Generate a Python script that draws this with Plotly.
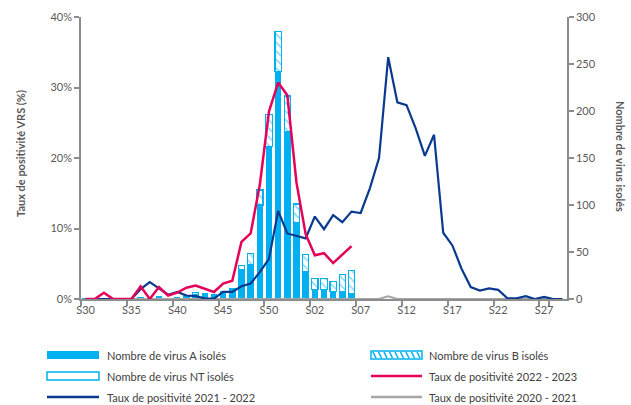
import plotly.graph_objects as go

weeks = ["S30", "S31", "S32", "S33", "S34", "S35", "S36", "S37", "S38", "S39",
         "S40", "S41", "S42", "S43", "S44", "S45", "S46", "S47", "S48", "S49",
         "S50", "S51", "S52", "S53", "S01", "S02", "S03", "S04", "S05", "S06",
         "S07", "S08", "S09", "S10", "S11", "S12", "S13", "S14", "S15", "S16",
         "S17", "S18", "S19", "S20", "S21", "S22", "S23", "S24", "S25", "S26",
         "S27", "S28", "S29"]
tick_labels = ["S30", "S35", "S40", "S45", "S50", "S02", "S07", "S12", "S17", "S22", "S27"]

virus_A = [0, 0, 0, 0, 0, 0, 2, 0, 3, 0, 2, 4, 5, 6, 5, 8, 11, 31, 37, 100,
           162, 242, 178, 81, 29, 10, 10, 8, 8, 6]
virus_B = [0, 0, 0, 0, 0, 0, 0, 0, 0, 0, 0, 0, 2, 0, 0, 0, 0, 5, 11, 16,
           34, 43, 38, 20, 18, 12, 12, 11, 18, 24]
virus_NT = [0, 0, 0, 0, 0, 0, 0, 0, 0, 0, 0, 0, 0, 0, 0, 0, 0, 0, 0, 0,
            0, 0, 0, 0, 0, 0, 0, 0, 0, 0]

pos_2022_2023 = [0, 0, 0.9, 0, 0, 0, 1.8, 0, 1.7, 0.5, 0.9, 1.6, 1.9, 1.4, 1.0, 2.2, 2.6, 8.1, 9.3, 16.2,
                 26.6, 30.7, 28.9, 16.5, 9.2, 6.2, 6.5, 5.1, 6.3, 7.5]
pos_2021_2022 = [0, 0, 0, 0, 0, 0, 1.4, 2.4, 1.5, 0.6, 1.0, 0.5, 0.4, 0.1, 0.05, 1.0, 1.0, 1.8, 2.2, 3.8,
                 5.7, 12.5, 9.3, 9.0, 8.6, 11.7, 9.9, 11.9, 10.9, 12.4, 12.2, 15.7, 20.0, 34.3, 27.9, 27.5,
                 24.2, 20.3, 23.3, 9.4, 7.6, 4.3, 1.7, 1.2, 1.5, 1.3, 0.1, 0.1, 0.4, 0, 0.3, 0, 0]
pos_2020_2021 = [0, 0, 0, 0, 0, 0, 0, 0, 0, 0, 0, 0, 0, 0, 0, 0, 0, 0, 0, 0,
                 0, 0, 0, 0, 0, 0, 0, 0, 0, 0, 0, 0, 0, 0.4, 0, 0, 0, 0, 0, 0,
                 0, 0, 0, 0, 0, 0, 0, 0, 0, 0, 0, 0, 0]

legend_labels = ["Nombre de virus A isolés", "Nombre de virus B isolés",
                 "Nombre de virus NT isolés", "Taux de positivité 2022 - 2023",
                 "Taux de positivité 2021 - 2022", "Taux de positivité 2020 - 2021"]

CYAN = "#00B0F0"
RED = "#E5005A"
NAVY = "#0A3A8F"
GRAY = "#A6A6A6"
AXIS = "#8C8C8C"
TXT = "#595959"
LEGTXT = "#404040"
FONT = "Lato"

W, H = 631, 405
L, R, T, B = 81, 64, 17, 106
PW, PH = W - L - R, H - T - B

n_bar = len(virus_A)
fig = go.Figure()
fig.add_trace(go.Bar(x=weeks[:n_bar], y=virus_A, name=legend_labels[0], yaxis="y",
                     marker=dict(color=CYAN, line=dict(width=0)), showlegend=False))
fig.add_trace(go.Bar(x=weeks[:n_bar], y=virus_B, name=legend_labels[1], yaxis="y",
                     marker=dict(color="white", line=dict(color=CYAN, width=1.2),
                                 pattern=dict(shape="\\", fgcolor=CYAN, bgcolor="white",
                                              size=6, solidity=0.25, fillmode="overlay")),
                     showlegend=False))
fig.add_trace(go.Bar(x=weeks[:n_bar], y=virus_NT, name=legend_labels[2], yaxis="y",
                     marker=dict(color="white", line=dict(color=CYAN, width=1)), showlegend=False))
fig.add_trace(go.Scatter(x=weeks, y=pos_2020_2021, name=legend_labels[5], yaxis="y2", mode="lines",
                         line=dict(color=GRAY, width=2), showlegend=False))
fig.add_trace(go.Scatter(x=weeks, y=pos_2021_2022, name=legend_labels[4], yaxis="y2", mode="lines",
                         line=dict(color=NAVY, width=2.2), showlegend=False))
fig.add_trace(go.Scatter(x=weeks[:len(pos_2022_2023)], y=pos_2022_2023, name=legend_labels[3],
                         yaxis="y2", mode="lines", line=dict(color=RED, width=2.5), showlegend=False))


def px2x(px):
    return (px - L) / PW


def px2y(py):
    return (H - B - py) / PH


shapes = []
annotations = []
rows = [355, 376, 397]
cols = [(47, 99, 105), (371, 422, 427)]
kinds = ["A", "B", "NT", "red", "navy", "gray"]
for k, (label, kind) in enumerate(zip(legend_labels, kinds)):
    r, c = k // 2, k % 2
    x0, x1, xt = cols[c]
    yc = rows[r]
    if kind == "A":
        shapes.append(dict(type="rect", xref="paper", yref="paper", x0=px2x(x0), x1=px2x(x1),
                           y0=px2y(yc - 4), y1=px2y(yc + 4), fillcolor=CYAN, line=dict(width=0)))
    elif kind == "NT":
        shapes.append(dict(type="rect", xref="paper", yref="paper", x0=px2x(x0), x1=px2x(x1),
                           y0=px2y(yc - 4), y1=px2y(yc + 4), fillcolor="white",
                           line=dict(color=CYAN, width=1.5)))
    elif kind == "B":
        shapes.append(dict(type="rect", xref="paper", yref="paper", x0=px2x(x0), x1=px2x(x1),
                           y0=px2y(yc - 4), y1=px2y(yc + 4), fillcolor="white",
                           line=dict(color=CYAN, width=1.5)))
        segs = []
        xs = x0 + 2
        while xs + 3 < x1:
            segs.append("M%.4f,%.4f L%.4f,%.4f" % (px2x(xs), px2y(yc - 3), px2x(xs + 3), px2y(yc + 3)))
            xs += 5.5
        shapes.append(dict(type="path", xref="paper", yref="paper", path=" ".join(segs),
                           line=dict(color=CYAN, width=1.6)))
    else:
        col = {"red": RED, "navy": NAVY, "gray": GRAY}[kind]
        shapes.append(dict(type="line", xref="paper", yref="paper", x0=px2x(x0), x1=px2x(x1),
                           y0=px2y(yc), y1=px2y(yc), line=dict(color=col, width=2.5)))
    annotations.append(dict(text=label, xref="paper", yref="paper", x=px2x(xt), y=px2y(yc),
                            xanchor="left", yanchor="middle", showarrow=False,
                            font=dict(family=FONT, size=11, color=LEGTXT)))

annotations.append(dict(text="<b>Taux de positivité VRS (%)</b>", xref="paper", yref="paper",
                        x=px2x(20), y=px2y(153), xanchor="center", yanchor="middle",
                        textangle=-90, showarrow=False, font=dict(family=FONT, size=11, color=TXT)))
annotations.append(dict(text="<b>Nombre de virus isolés</b>", xref="paper", yref="paper",
                        x=px2x(621), y=px2y(156), xanchor="center", yanchor="middle",
                        textangle=90, showarrow=False, font=dict(family=FONT, size=11, color=TXT)))

fig.update_layout(
    width=W, height=H,
    margin=dict(l=L, r=R, t=T, b=B, pad=0, autoexpand=False),
    paper_bgcolor="white", plot_bgcolor="white",
    barmode="stack", bargap=0.3,
    showlegend=False,
    font=dict(family=FONT, size=11, color=TXT),
    xaxis=dict(type="category", categoryorder="array", categoryarray=weeks,
               range=[-0.5, len(weeks) - 0.5], tickmode="array", tickvals=tick_labels,
               ticktext=tick_labels, tickangle=0, ticks="outside", tickson="boundaries", ticklen=5,
               tickcolor=AXIS, tickwidth=1.5, showline=True, linecolor=AXIS, linewidth=1.5,
               showgrid=False, zeroline=False, automargin=False,
               tickfont=dict(family=FONT, size=11, color=TXT)),
    yaxis=dict(side="right", range=[0, 300], tickmode="linear", tick0=0, dtick=50,
               ticks="outside", ticklen=5, tickcolor=AXIS, tickwidth=1.5, showline=True,
               linecolor=AXIS, linewidth=1.5, showgrid=False, zeroline=False, automargin=False,
               tickfont=dict(family=FONT, size=11, color=TXT)),
    yaxis2=dict(side="left", overlaying="y", range=[0, 40], tickmode="linear", tick0=0, dtick=10,
                ticksuffix="%", ticks="outside", ticklen=5, tickcolor=AXIS, tickwidth=1.5,
                showline=True, linecolor=AXIS, linewidth=1.5, showgrid=False, zeroline=False,
                automargin=False, tickfont=dict(family=FONT, size=11, color=TXT)),
    shapes=shapes,
    annotations=annotations,
)

fig.write_html("out.html", config={"displayModeBar": False},
               post_script="document.body.style.margin='0px';document.body.style.padding='0px';")
